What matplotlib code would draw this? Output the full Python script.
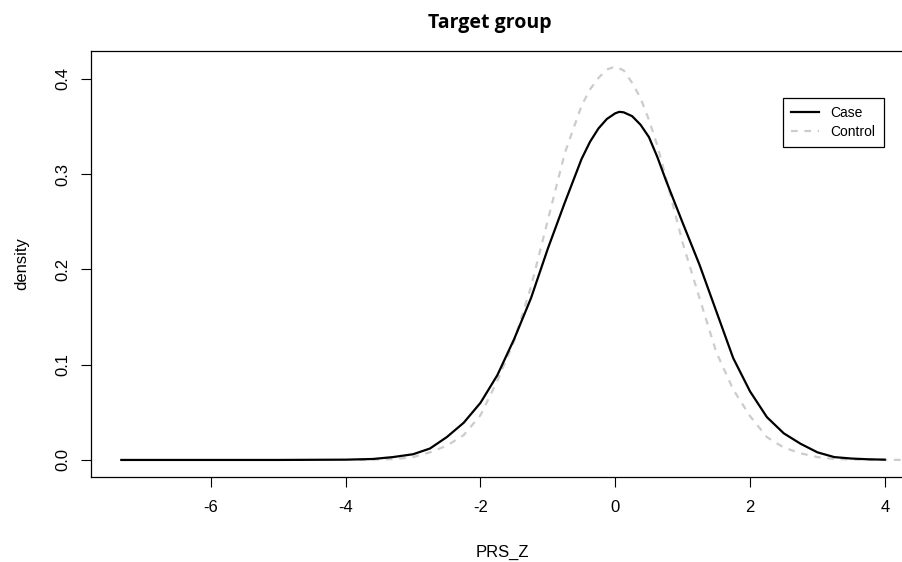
import matplotlib
matplotlib.use("Agg")
import matplotlib.pyplot as plt

plt.rcParams['font.family'] = ['Liberation Sans Narrow', 'Liberation Sans', 'DejaVu Sans']

# density estimates
case_x = [-7.33, -6.0, -5.0, -4.0, -3.6, -3.3, -3.0, -2.75, -2.5, -2.25, -2.0,
          -1.75, -1.5, -1.25, -1.0, -0.75, -0.5, -0.375, -0.25, -0.125, 0.0,
          0.06, 0.125, 0.25, 0.375, 0.5, 0.625, 0.75, 1.0, 1.25, 1.5, 1.75,
          2.0, 2.25, 2.5, 2.75, 3.0, 3.25, 3.5, 3.75, 4.0]
case_y = [0.0, 0.0, 0.0, 0.0003, 0.001, 0.003, 0.006, 0.012, 0.024, 0.039, 0.060,
          0.089, 0.127, 0.170, 0.222, 0.270, 0.316, 0.334, 0.348, 0.358, 0.364,
          0.3655, 0.365, 0.361, 0.352, 0.339, 0.318, 0.294, 0.249, 0.205, 0.156, 0.107,
          0.072, 0.045, 0.028, 0.017, 0.008, 0.003, 0.0015, 0.0007, 0.0003]

control_x = [-3.8, -3.5, -3.25, -3.0, -2.75, -2.5, -2.25, -2.0, -1.75, -1.5,
             -1.25, -1.0, -0.75, -0.5, -0.375, -0.25, -0.125, 0.0, 0.125, 0.25,
             0.375, 0.5, 0.625, 0.75, 1.0, 1.25, 1.5, 1.75, 2.0, 2.25, 2.5,
             2.75, 3.0, 3.25, 3.5, 4.0, 4.5]
control_y = [0.0, 0.0005, 0.001, 0.003, 0.008, 0.015, 0.026, 0.047, 0.083, 0.125,
             0.182, 0.252, 0.322, 0.372, 0.389, 0.401, 0.410, 0.413, 0.409, 0.396,
             0.380, 0.357, 0.330, 0.297, 0.228, 0.170, 0.113, 0.074, 0.046, 0.024, 0.013,
             0.007, 0.003, 0.001, 0.0005, 0.0001, 0.0]

x_ticks = [-6, -4, -2, 0, 2, 4]
y_ticks = [0.0, 0.1, 0.2, 0.3, 0.4]
y_tick_labels = ["0.0", "0.1", "0.2", "0.3", "0.4"]

W, H = 903, 562
fig = plt.figure(figsize=(W / 100, H / 100), dpi=100)
# the plot box runs past the right edge of the picture, as in the original
ax = fig.add_axes([91 / W, 1 - 477 / H, (960 - 91) / W, (477 - 51) / H])

ax.plot(control_x, control_y, color='#cccccc', linewidth=1.6,
        linestyle=(0, (3, 3)), label='Control')
ax.plot(case_x, case_y, color='black', linewidth=1.6, label='Case')

ax.set_xlim(-7.78, 5.116)
ax.set_ylim(-0.0179, 0.4294)
ax.set_xticks(x_ticks)
ax.set_xticklabels([str(t) for t in x_ticks])
ax.set_yticks(y_ticks)
ax.set_yticklabels(y_tick_labels, rotation=90, va='center')
ax.tick_params(direction='out', length=7.2, width=0.8, labelsize=12)
ax.tick_params(axis='x', pad=9)
ax.tick_params(axis='y', pad=8)

for side in ['left', 'bottom', 'top']:
    ax.spines[side].set_linewidth(0.9)
    ax.spines[side].set_color('black')
ax.spines['right'].set_visible(False)

handles, labels = ax.get_legend_handles_labels()
leg = ax.legend(handles[::-1], labels[::-1], loc='upper left',
                bbox_to_anchor=(783 / W, 1 - 98 / H), bbox_transform=fig.transFigure,
                fontsize=10, frameon=True, fancybox=False, edgecolor='black',
                framealpha=1, borderaxespad=0, handlelength=2.0, handletextpad=0.8,
                labelspacing=0.3, borderpad=0.6)
leg.get_frame().set_linewidth(0.9)

fig.text(490 / W, 1 - 28 / H, 'Target group', ha='center', va='baseline',
         fontsize=14, fontweight='bold', family=['Open Sans', 'DejaVu Sans'])
fig.text(502 / W, 1 - 552 / H, 'PRS_Z', ha='center', va='center', fontsize=12)
fig.text(22 / W, 1 - 264 / H, 'density', ha='center', va='center',
         rotation=90, fontsize=12)

fig.savefig('out.png', dpi=100)
